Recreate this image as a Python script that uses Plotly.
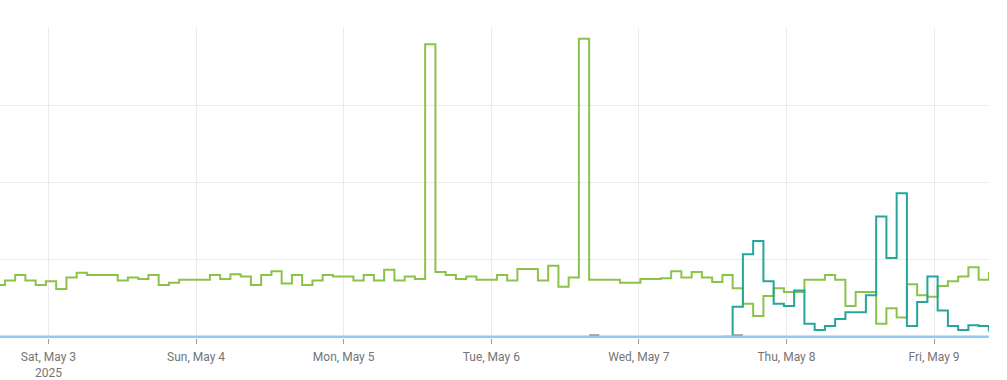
import pandas as pd
import plotly.graph_objects as go

# Sample timestamps: regular 100-minute buckets
start_time = "2025-05-02 15:15"
bucket = "100min"

# Series values
green_vals = [67, 73, 80, 73, 67, 72, 62, 77, 83, 80,
              80, 80, 73, 77, 75, 80, 67, 70, 74, 74,
              74, 80, 75, 81, 78, 67, 80, 85, 69, 80,
              67, 73, 80, 78, 78, 73, 80, 73, 87, 73,
              78, 75, 379, 84, 80, 75, 78, 74, 74, 80,
              73, 88, 88, 73, 92, 65, 77, 386, 74, 74,
              74, 70, 70, 75, 75, 76, 85, 77, 84, 77,
              71, 80, 63, 43, 27, 53, 63, 58, 58, 74,
              74, 80, 74, 40, 58, 58, 17, 37, 25, 68,
              54, 52, 66, 72, 78, 90, 74, 84]

teal_offset = 71  # index into the time buckets where the teal series starts
teal_vals = [0, 39, 107, 124, 72, 43, 40, 60, 17, 9,
             14, 23, 32, 32, 54, 156, 102, 186, 14, 45,
             78, 34, 14, 9, 15, 14, 7]

brown_idx = [58, 59, 72, 73]
brown_vals = [2, 2, 2, 2]

tick_dates = ["2025-05-03", "2025-05-04", "2025-05-05", "2025-05-06",
              "2025-05-07", "2025-05-08", "2025-05-09"]
tick_labels = ["Sat, May 3<br>2025", "Sun, May 4", "Mon, May 5", "Tue, May 6",
               "Wed, May 7", "Thu, May 8", "Fri, May 9"]

x_range = ["2025-05-02 16:07", "2025-05-09 08:56"]

times = pd.date_range(start_time, periods=len(green_vals), freq=bucket)

teal_full = [None] * len(times)
for i, v in enumerate(teal_vals):
    teal_full[teal_offset + i] = v

brown_full = [None] * len(times)
for i, v in zip(brown_idx, brown_vals):
    brown_full[i] = v

fig = go.Figure()
fig.add_trace(go.Scatter(x=times, y=green_vals, mode="lines",
                         line=dict(shape="hv", color="#8bc34a", width=2)))
fig.add_trace(go.Scatter(x=times, y=teal_full, mode="lines",
                         line=dict(shape="hv", color="#26a69a", width=2)))
fig.add_trace(go.Scatter(x=times, y=brown_full, mode="lines",
                         line=dict(shape="hv", color="#a1887f", width=2)))
fig.add_trace(go.Scatter(x=times, y=[0] * len(times), mode="lines",
                         line=dict(shape="hv", color="#90caf9", width=2.5)))

fig.update_layout(
    width=1007, height=380,
    margin=dict(l=0, r=18, t=28, b=40),
    paper_bgcolor="white", plot_bgcolor="white",
    showlegend=False,
    font=dict(family="Roboto", size=12, color="#757575"),
    xaxis=dict(
        type="date", range=x_range,
        tickvals=tick_dates, ticktext=tick_labels,
        showgrid=True, gridcolor="#ebebeb", gridwidth=1,
        ticks="outside", ticklen=5, tickcolor="#9e9e9e",
        ticklabelstandoff=3,
        showline=False, zeroline=False,
        tickfont=dict(family="Roboto", size=12, color="#757575"),
    ),
    yaxis=dict(
        range=[-1.5, 400], dtick=100, tick0=0,
        showgrid=True, gridcolor="#ebebeb", gridwidth=1,
        showticklabels=False, zeroline=False, showline=False,
    ),
)

fig.write_html("out.html",
               config={"displayModeBar": False},
               post_script="document.body.style.margin='0';document.body.style.overflow='hidden';")
